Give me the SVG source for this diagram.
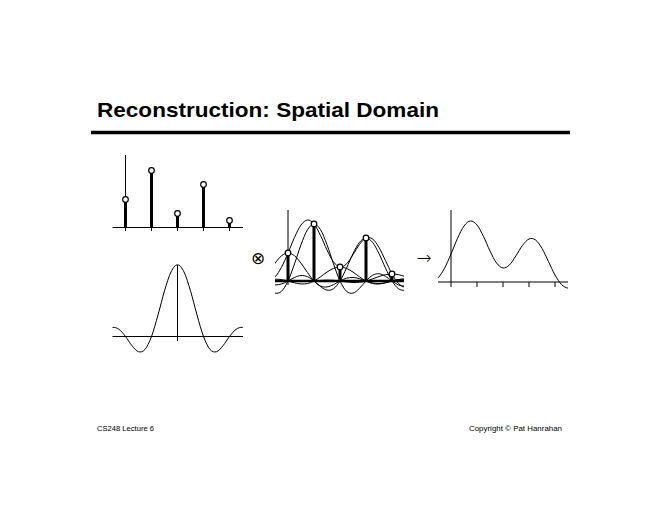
<svg xmlns="http://www.w3.org/2000/svg" xmlns:xlink="http://www.w3.org/1999/xlink" width="660" height="510" viewBox="0 0 660 510">
<style>
.thin{stroke:#000;stroke-width:1;fill:none}
.thick{stroke:#000;stroke-width:3;fill:none}
.curve{stroke:#000;stroke-width:1;fill:none;vector-effect:non-scaling-stroke}
.dot{fill:#fff;stroke:#000;stroke-width:1.2}
.title{font-family:"Liberation Sans",Arial,sans-serif;font-weight:bold;font-size:21px;fill:#000}
.foot{font-family:"Liberation Sans",Arial,sans-serif;font-size:7px;fill:#000}
.sym{font-family:"DejaVu Sans ExtraLight","DejaVu Sans",sans-serif;font-weight:200;fill:#000}
</style>
<defs>
<path id="sinc" class="curve" d="M-117,-7.07 C-114.83,-7.16 -112.67,-6.48 -110.5,-5.3 C-108.33,-4.12 -106.17,-1.88 -104,0 C-101.83,1.88 -99.67,4.48 -97.5,6 C-95.33,7.52 -93.17,8.95 -91,9.1 C-88.83,9.25 -86.67,8.45 -84.5,6.93 C-82.33,5.41 -80.17,2.52 -78,0 C-75.83,-2.52 -73.67,-6.07 -71.5,-8.19 C-69.33,-10.31 -67.17,-12.43 -65,-12.73 C-62.83,-13.03 -60.67,-12.12 -58.5,-10 C-56.33,-7.88 -54.17,-3.81 -52,0 C-49.83,3.81 -47.67,9.32 -45.5,12.86 C-43.33,16.4 -41.17,20.36 -39,21.22 C-36.83,22.08 -34.67,21.55 -32.5,18.01 C-30.33,14.47 -28.17,8 -26,0 C-23.83,-8 -21.67,-19.4 -19.5,-30.01 C-17.33,-40.62 -15.17,-53.66 -13,-63.66 C-10.83,-73.66 -8.67,-83.97 -6.5,-90.03 C-4.33,-96.09 -2.17,-100 0,-100 C2.17,-100 4.33,-96.09 6.5,-90.03 C8.67,-83.97 10.83,-73.66 13,-63.66 C15.17,-53.66 17.33,-40.62 19.5,-30.01 C21.67,-19.4 23.83,-8 26,0 C28.17,8 30.33,14.47 32.5,18.01 C34.67,21.55 36.83,22.08 39,21.22 C41.17,20.36 43.33,16.4 45.5,12.86 C47.67,9.32 49.83,3.81 52,0 C54.17,-3.81 56.33,-7.88 58.5,-10 C60.67,-12.12 62.83,-13.03 65,-12.73 C67.17,-12.43 69.33,-10.31 71.5,-8.19 C73.67,-6.07 75.83,-2.52 78,0 C80.17,2.52 82.33,5.41 84.5,6.93 C86.67,8.45 88.83,9.25 91,9.1 C93.17,8.95 95.33,7.52 97.5,6 C99.67,4.48 101.83,1.88 104,0 C106.17,-1.88 108.33,-4.12 110.5,-5.3 C112.67,-6.48 114.83,-7.16 117,-7.07"/>
<path id="sum" class="curve" d="M-13,-4.1 C-10.83,-6.39 -8.67,-9.76 -6.5,-13.74 C-4.33,-17.72 -2.17,-23.02 0,-28 C2.17,-32.98 4.33,-38.95 6.5,-43.61 C8.67,-48.28 10.83,-53.08 13,-55.98 C15.17,-58.88 17.33,-60.85 19.5,-61.02 C21.67,-61.19 23.83,-59.58 26,-57 C28.17,-54.42 30.33,-49.85 32.5,-45.52 C34.67,-41.19 36.83,-35.43 39,-31.02 C41.17,-26.62 43.33,-21.9 45.5,-19.07 C47.67,-16.23 49.83,-14.32 52,-14 C54.17,-13.68 56.33,-15.1 58.5,-17.15 C60.67,-19.19 62.83,-23.03 65,-26.27 C67.17,-29.52 69.33,-33.83 71.5,-36.62 C73.67,-39.41 75.83,-42.09 78,-43 C80.17,-43.91 82.33,-43.63 84.5,-42.06 C86.67,-40.49 88.83,-37.18 91,-33.57 C93.17,-29.96 95.33,-24.82 97.5,-20.39 C99.67,-15.96 101.83,-10.82 104,-7 C106.17,-3.18 108.33,0.32 110.5,2.51 C112.67,4.69 114.83,5.78 117,6.09"/>
<clipPath id="clipA"><rect x="112.5" y="250" width="130.5" height="110"/></clipPath>
<clipPath id="clipB"><rect x="275" y="200" width="129" height="110"/></clipPath>
</defs>

<g id="title">
<text class="title" x="97" y="116.5" textLength="342" lengthAdjust="spacingAndGlyphs">Reconstruction: Spatial Domain</text>
<line x1="91" y1="132.5" x2="570" y2="132.5" stroke="#000" stroke-width="3.6"/>
</g>

<g id="samples">
<line class="thin" x1="125.5" y1="155" x2="125.5" y2="231"/>
<line class="thin" x1="112.5" y1="227.5" x2="243" y2="227.5"/>
<path class="thin" d="M151.5,227.5V231 M177.5,227.5V231 M203.5,227.5V231 M229.5,227.5V231"/>
<path class="thick" d="M125.5,227.5V199.5 M151.5,227.5V170.5 M177.5,227.5V213.5 M203.5,227.5V184.5 M229.5,227.5V220.5"/>
<circle class="dot" cx="125.5" cy="199.5" r="2.8"/>
<circle class="dot" cx="151.5" cy="170.5" r="2.8"/>
<circle class="dot" cx="177.5" cy="213.5" r="2.8"/>
<circle class="dot" cx="203.5" cy="184.5" r="2.8"/>
<circle class="dot" cx="229.5" cy="220.5" r="2.8"/>
</g>

<g id="filter">
<line class="thin" x1="177.5" y1="265" x2="177.5" y2="341"/>
<line class="thin" x1="112.5" y1="336.5" x2="243" y2="336.5"/>
<g clip-path="url(#clipA)">
<use xlink:href="#sinc" transform="translate(177.5,336.5) scale(1,0.717)"/>
</g>
</g>

<g id="operators">
<text class="sym" x="257.5" y="264.2" font-size="16.5" text-anchor="middle">⊗</text>
<text class="sym" x="424" y="263.5" font-size="18" text-anchor="middle">→</text>
</g>

<g id="convolution">
<line class="thin" x1="288" y1="210" x2="288" y2="285"/>
<line x1="275" y1="281" x2="404" y2="281" stroke="#000" stroke-width="2.6"/>
<g clip-path="url(#clipB)">
<use xlink:href="#sinc" transform="translate(288,281) scale(1,0.28)"/>
<use xlink:href="#sinc" transform="translate(314,281) scale(1,0.57)"/>
<use xlink:href="#sinc" transform="translate(340,281) scale(1,0.14)"/>
<use xlink:href="#sinc" transform="translate(366,281) scale(1,0.43)"/>
<use xlink:href="#sinc" transform="translate(392,281) scale(1,0.07)"/>
<use xlink:href="#sum" transform="translate(288,281)"/>
</g>
<path class="thick" d="M288,282V253 M314,282V224 M340,282V267 M366,282V238 M392,282V274"/>
<circle class="dot" cx="288" cy="253" r="2.8"/>
<circle class="dot" cx="314" cy="224" r="2.8"/>
<circle class="dot" cx="340" cy="267" r="2.8"/>
<circle class="dot" cx="366" cy="238" r="2.8"/>
<circle class="dot" cx="392" cy="274" r="2.8"/>
</g>

<g id="result">
<line class="thin" x1="451" y1="210" x2="451" y2="287"/>
<line class="thin" x1="438" y1="282" x2="568" y2="282"/>
<path class="thin" d="M477,282V287 M503,282V287 M529,282V287 M555,282V287"/>
<use xlink:href="#sum" transform="translate(451,282)"/>
</g>

<g id="footer">
<text class="foot" x="97" y="430.5" textLength="57" lengthAdjust="spacingAndGlyphs">CS248 Lecture 6</text>
<text class="foot" x="469" y="430.5" textLength="93" lengthAdjust="spacingAndGlyphs">Copyright © Pat Hanrahan</text>
</g>
</svg>
